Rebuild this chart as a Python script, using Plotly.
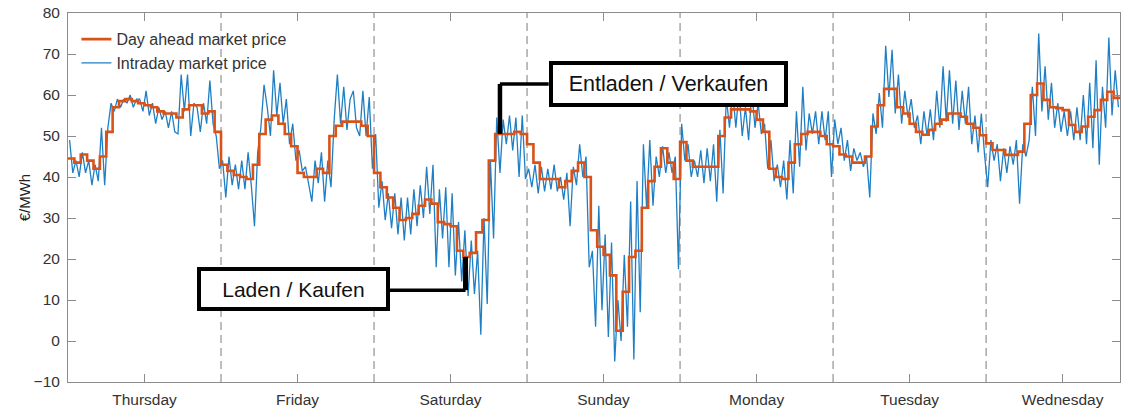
import plotly.graph_objects as go

# ---------------- data ----------------
day_names = ["Thursday", "Friday", "Saturday", "Sunday", "Monday", "Tuesday", "Wednesday"]

# Day-ahead market price, hourly (€/MWh)
da_thu = [44.5, 43.5, 45.5, 44, 42, 45, 51, 57, 58.5, 59, 58.5, 58, 57.5, 57, 56, 55.5, 55.5, 54.5, 56.5, 57.5, 57.5, 55.5, 56, 51]
da_fri = [43, 41.5, 40.5, 40, 39.5, 43, 50.5, 54, 55, 53, 50.5, 47.5, 41, 40, 40, 42, 41, 50, 52.5, 53.5, 53.5, 53.5, 52.5, 50]
da_sat = [41, 37.5, 35, 32.5, 29.5, 30, 31, 33, 34.5, 33.5, 29, 28.5, 28, 22, 20.5, 21.5, 26.5, 29.5, 44, 50.5, 50.5, 50.5, 51, 50.5]
da_sun = [48, 43.5, 39.5, 39.5, 39.5, 37.5, 39, 41.5, 43.5, 40, 27, 23, 21, 16, 2.5, 12, 20.5, 22, 32.5, 39, 42.5, 47, 43.5, 39.5]
da_mon = [48.5, 44, 42.5, 42.5, 42.5, 42.5, 50, 54.5, 56.5, 56.5, 56.5, 56, 54, 51, 42, 40, 39.5, 43.5, 48, 50.5, 51, 51, 50, 48]
da_tue = [47.5, 45.5, 45, 43.5, 43.5, 45, 52.3, 57.5, 61.5, 61.5, 57, 55.5, 53, 51, 50.3, 51.5, 53, 54, 55.5, 55.5, 54.7, 53, 52, 50.2]
da_wed = [48.2, 46.6, 46.6, 45.4, 45.4, 46.2, 53, 60, 62.8, 58.8, 57, 56.8, 56.3, 52.7, 51, 52.3, 54.7, 56.3, 58.8, 60.8, 59.3]

# Intraday market price, half-hourly (€/MWh)
id_thu = [49, 41, 44, 40, 46, 41, 44, 38, 43, 39, 52, 38, 52, 58, 56, 59, 57, 59, 58, 60,
          57, 59, 59, 56, 61, 55, 58, 53, 57, 54, 56, 52, 56, 51, 50.5, 65, 56, 65, 50, 58,
          57, 51, 58, 53, 63.5, 53, 50, 42]
id_fri = [44, 35, 45, 38, 43, 37, 44, 37, 46, 38, 28, 46, 52, 62.5, 57, 50, 66, 55, 63, 53,
          59, 48, 53, 44, 46.5, 41.5, 42.5, 38, 34, 44, 38.5, 46, 34, 44, 37.5, 54, 65, 53, 62, 51.5,
          59, 61, 52, 50, 61, 50, 59.5, 42]
id_sat = [50.5, 32.5, 39, 29.5, 36, 27.5, 36, 26, 35, 24.5, 35, 26, 37, 28, 38, 30, 42.5, 31, 43, 18,
          37, 25, 37.5, 18, 36, 16, 29, 14.5, 27, 11, 24.5, 11.5, 22, 1.5, 30, 9, 44, 25, 54.5, 41,
          54, 48, 55, 46.5, 54.5, 40, 55, 39.5]
id_sun = [42, 37.5, 43, 36, 42.5, 36.5, 42, 37, 43, 36.5, 40, 34.5, 41, 28, 42.5, 38, 48, 40, 45, 18,
          22, 3.5, 33, 7.5, 26, 1, 24, -5, 10, 0, 21, 3.5, 34, -4.5, 39, 7, 48, 32.5, 49, 33,
          45, 40, 47.5, 41, 46, 41, 45, 17.5]
id_mon = [53, 44, 48, 40, 44, 40, 46.5, 38.5, 47, 39, 48, 34, 51.5, 36, 59.5, 52, 61, 52, 61, 50,
          57, 49, 61, 52, 58, 50.5, 53, 42, 49, 39, 43, 37.5, 44, 34.5, 49, 36, 56, 42.5, 62, 46.5,
          55.5, 50.5, 56, 48, 56, 49, 56, 40]
id_tue = [54, 48, 52, 44, 49, 41.5, 47, 44, 46, 42.5, 45, 35, 55.5, 50.5, 60.5, 52, 72, 59.5, 71, 55.5,
          65, 53, 61, 54.5, 59, 52, 55, 48, 56, 50, 56.5, 49, 61, 52, 67, 53.5, 66, 53, 63.5, 51.5,
          61, 53, 62, 48, 55, 46, 55.5, 45.5]
id_wed = [37.5, 49, 44, 48, 39, 47, 41, 47.5, 43, 49, 33.5, 48, 45, 49, 62, 50, 75, 56, 67, 54,
          63, 52, 58, 51, 56, 50, 56, 49, 57, 49, 60, 48, 63, 47, 68.5, 43, 62, 52, 74, 55,
          66, 57]

day_ahead = da_thu + da_fri + da_sat + da_sun + da_mon + da_tue + da_wed
intraday = id_thu + id_fri + id_sat + id_sun + id_mon + id_tue + id_wed

n_hours = len(day_ahead)
x_da = list(range(n_hours)) + [n_hours]
y_da = day_ahead + [day_ahead[-1]]
x_id = [i * 0.5 + 0.25 for i in range(len(intraday))]

FONT = "Liberation Sans, Arial, Helvetica, sans-serif"
ORANGE = "#D95319"
BLUE = "#1f7fc4"
GREY = "#8c8c8c"

fig = go.Figure()
fig.add_trace(go.Scatter(x=x_id, y=intraday, mode="lines", name="Intraday market price",
                         line=dict(color=BLUE, width=1.3), legendrank=2))
fig.add_trace(go.Scatter(x=x_da, y=y_da, mode="lines", name="Day ahead market price",
                         line=dict(color=ORANGE, width=2.6, shape="hv"), legendrank=1))

shapes = []
for k in range(1, len(day_names)):
    shapes.append(dict(type="line", xref="x", yref="paper", x0=24 * k, x1=24 * k, y0=0, y1=1,
                       line=dict(color="#9a9a9a", width=1.3, dash="8px,5px"), layer="below"))

# connectors for annotation boxes
sat_start = 48
buy_h = sat_start + da_sat.index(min(da_sat))
buy_x = buy_h + 0.35
buy_y = day_ahead[buy_h]
sell_h = 67
sell_x = sell_h + 0.75
sell_y = day_ahead[sell_h]

shapes += [
    dict(type="line", x0=50.5, x1=buy_x, y0=12.4, y1=12.4, line=dict(color="black", width=3.5)),
    dict(type="line", x0=buy_x, x1=buy_x, y0=12.4, y1=buy_y, line=dict(color="black", width=5)),
    dict(type="line", x0=75.4, x1=sell_x, y0=62.7, y1=62.7, line=dict(color="black", width=3.5)),
    dict(type="line", x0=sell_x, x1=sell_x, y0=62.7, y1=sell_y, line=dict(color="black", width=4.5)),
]

annotations = [
    dict(x=35.4, y=12.6, xref="x", yref="y", text="Laden / Kaufen", showarrow=False,
         font=dict(family=FONT, size=21, color="#111111"), bgcolor="white",
         bordercolor="black", borderwidth=4, borderpad=2, width=181, height=32),
    dict(x=94.2, y=62.7, xref="x", yref="y", text="Entladen / Verkaufen", showarrow=False,
         font=dict(family=FONT, size=21.5, color="#111111"), bgcolor="white",
         bordercolor="black", borderwidth=4, borderpad=2, width=227, height=34),
    dict(x=-0.041, y=0.5, xref="paper", yref="paper", text="€/MWh", showarrow=False,
         textangle=-90, xanchor="center", yanchor="middle",
         font=dict(family=FONT, size=15, color="#222222")),
]

fig.update_layout(
    width=1123, height=409,
    margin=dict(l=68, r=3, t=13, b=27, autoexpand=False),
    paper_bgcolor="white", plot_bgcolor="white",
    font=dict(family=FONT, size=15, color="#333333"),
    showlegend=True,
    legend=dict(x=0.008, y=0.975, xanchor="left", yanchor="top", bgcolor="rgba(0,0,0,0)",
                font=dict(family=FONT, size=16, color="#333333"), tracegroupgap=0),
    shapes=shapes, annotations=annotations,
)
fig.update_xaxes(range=[0, n_hours], tickvals=[24 * i + 12 for i in range(len(day_names))],
                 ticktext=day_names, ticks="inside", ticklen=8, tickcolor=GREY,
                 showline=True, linecolor=GREY, linewidth=1, mirror="ticks",
                 showgrid=False, zeroline=False, ticklabelstandoff=3, automargin=False,
                 tickfont=dict(family=FONT, size=15.5, color="#333333"))
fig.update_yaxes(range=[-10, 80], dtick=10, ticks="inside", ticklen=8, tickcolor=GREY,
                 showline=True, linecolor=GREY, linewidth=1, mirror="ticks",
                 showgrid=False, zeroline=False, ticklabelstandoff=4, automargin=False,
                 tickfont=dict(family=FONT, size=15.5, color="#333333"))

# remove the browser's default 8px page margin so the figure fills the window exactly
fig.write_html("out.html", config={"displayModeBar": False},
               post_script="document.body.style.margin='0px';")
